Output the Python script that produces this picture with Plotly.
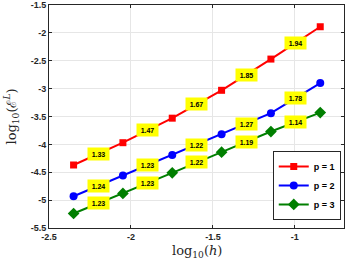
import plotly.graph_objects as go

log_h = [-2.350, -2.049, -1.748, -1.447, -1.146, -0.845]
err_p1 = [-4.37, -3.97, -3.53, -3.03, -2.47, -1.89]
err_p2 = [-4.93, -4.56, -4.19, -3.82, -3.44, -2.90]
err_p3 = [-5.24, -4.88, -4.51, -4.14, -3.77, -3.43]
rates_p1 = ["1.33", "1.47", "1.67", "1.85", "1.94"]
rates_p2 = ["1.24", "1.23", "1.22", "1.27", "1.78"]
rates_p3 = ["1.23", "1.23", "1.22", "1.19", "1.14"]
names = ["p = 1", "p = 2", "p = 3"]
xticks = [-2.5, -2, -1.5, -1]
xticklabels = ["-2.5", "-2", "-1.5", "-1"]
yticks = [-5.5, -5, -4.5, -4, -3.5, -3, -2.5, -2, -1.5]
yticklabels = ["-5.5", "-5", "-4.5", "-4", "-3.5", "-3", "-2.5", "-2", "-1.5"]

series = [
    (err_p1, rates_p1, names[0], "#FF0000", "square", 7),
    (err_p2, rates_p2, names[1], "#0000FF", "circle", 8),
    (err_p3, rates_p3, names[2], "#007F00", "diamond", 9),
]

fig = go.Figure()
annotations = []
for ys, rates, name, color, sym, ms in series:
    fig.add_trace(go.Scatter(
        x=log_h, y=ys, mode="lines+markers", name=name,
        line=dict(color=color, width=2),
        marker=dict(symbol=sym, size=ms, color=color),
    ))
    for i, r in enumerate(rates):
        annotations.append(dict(
            x=(log_h[i] + log_h[i + 1]) / 2, y=(ys[i] + ys[i + 1]) / 2,
            xref="x", yref="y", text=r, showarrow=False,
            bgcolor="#FFFF00", width=21, height=12, borderpad=0,
            font=dict(family="Liberation Sans", size=7, color="black", weight="bold"),
            xanchor="center", yanchor="middle",
        ))

annotations.append(dict(
    x=0.5, y=0, xref="paper", yref="paper", yshift=-23,
    text="log<sub>10</sub>(<i>h</i>)", showarrow=False,
    font=dict(family="DejaVu Serif", size=13, color="#262626"),
    xanchor="center", yanchor="middle",
))
annotations.append(dict(
    x=0, y=0.5, xref="paper", yref="paper", xshift=-38,
    text="log<sub>10</sub>(ℰ<sup><i>L</i></sup>)", showarrow=False, textangle=-90,
    font=dict(family="DejaVu Serif", size=13, color="#262626"),
    xanchor="center", yanchor="middle",
))

axis_common = dict(
    showline=True, linecolor="#262626", linewidth=1, mirror="ticks",
    ticks="inside", ticklen=3, tickcolor="#262626",
    showgrid=True, gridcolor="#E6E6E6", gridwidth=1, zeroline=False,
    tickfont=dict(family="Liberation Sans", size=9, color="#262626", weight="bold"),
    automargin=False,
)

fig.update_layout(
    width=346, height=264,
    margin=dict(l=49, r=2, t=5, b=36),
    paper_bgcolor="white", plot_bgcolor="white",
    xaxis=dict(range=[-2.5, -0.7], tickvals=xticks, ticktext=xticklabels, **axis_common),
    yaxis=dict(range=[-5.5, -1.5], tickvals=yticks, ticktext=yticklabels, **axis_common),
    legend=dict(
        x=0.989, y=0.036, xanchor="right", yanchor="bottom",
        bgcolor="white", bordercolor="#262626", borderwidth=1,
        font=dict(family="Liberation Sans", size=9, color="black", weight="bold"),
        itemwidth=30, tracegroupgap=0,
    ),
    annotations=annotations,
    showlegend=True,
)

fig.write_html("out.html", config={"displayModeBar": False},
               post_script="document.body.style.margin='0';document.body.style.overflow='hidden';")
